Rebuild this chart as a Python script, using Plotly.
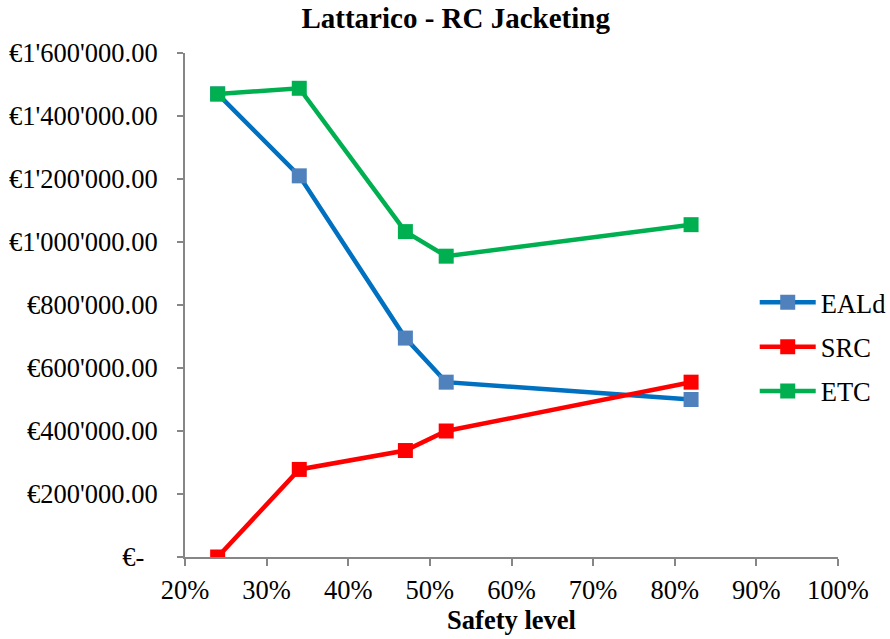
import plotly.graph_objects as go

# Safety level (fraction) for each retrofit configuration
safety_level = [0.24, 0.34, 0.47, 0.52, 0.82]

# Costs in euro
eald = [1470000, 1210000, 695000, 555000, 500000]
src = [0, 278000, 338000, 400000, 555000]
etc = [1470000, 1488000, 1033000, 955000, 1055000]

y_ticks = [0, 200000, 400000, 600000, 800000, 1000000, 1200000, 1400000, 1600000]
y_tick_text = ["€-\u00a0\u00a0", "€200'000.00", "€400'000.00", "€600'000.00", "€800'000.00",
               "€1'000'000.00", "€1'200'000.00", "€1'400'000.00", "€1'600'000.00"]
x_ticks = [0.2, 0.3, 0.4, 0.5, 0.6, 0.7, 0.8, 0.9, 1.0]
x_tick_text = ["20%", "30%", "40%", "50%", "60%", "70%", "80%", "90%", "100%"]

FONT = "Liberation Serif, Times New Roman, serif"
AXIS_GREY = "#868686"

series = [
    ("EALd", eald, "#0070C0", "#4F81BD"),
    ("SRC", src, "#FF0000", "#FF0000"),
    ("ETC", etc, "#00B050", "#00B050"),
]

fig = go.Figure()
for name, vals, line_col, marker_col in series:
    fig.add_trace(go.Scatter(
        x=safety_level, y=vals, name=name, mode="lines+markers", legendgroup=name,
        line=dict(color=line_col, width=4.5),
        marker=dict(symbol="square", size=15, color=marker_col),
    ))

fig.update_layout(
    width=890, height=639,
    paper_bgcolor="white", plot_bgcolor="white",
    margin=dict(l=185, r=52, t=53, b=82, autoexpand=False),
    font=dict(family=FONT, size=26.5, color="black"),
    title=dict(text="<b>Lattarico - RC Jacketing</b>", x=0.512, xanchor="center",
               y=0.972, yanchor="middle", font=dict(size=29)),
    showlegend=True,
    legend=dict(xref="container", yref="container", x=0.848, xanchor="left",
                y=0.457, yanchor="middle",
                bgcolor="rgba(0,0,0,0)", itemwidth=56, traceorder="grouped",
                tracegroupgap=7, font=dict(size=26.5)),
    xaxis=dict(range=[0.2, 1.0], tickvals=x_ticks, ticktext=x_tick_text,
               showgrid=False, zeroline=False, showline=True, linecolor=AXIS_GREY,
               linewidth=2, ticks="outside", ticklen=7, tickcolor=AXIS_GREY, tickwidth=2,
               ticklabelstandoff=1,
               title=dict(text="<b>Safety level</b>", standoff=4, font=dict(size=26.5))),
    yaxis=dict(range=[0, 1600000], tickvals=y_ticks, ticktext=y_tick_text,
               showgrid=False, zeroline=False, showline=True, linecolor=AXIS_GREY,
               linewidth=2, ticks="outside", ticklen=6, tickcolor=AXIS_GREY, tickwidth=2,
               ticklabelstandoff=14),
)

fig.write_html("out.html")
